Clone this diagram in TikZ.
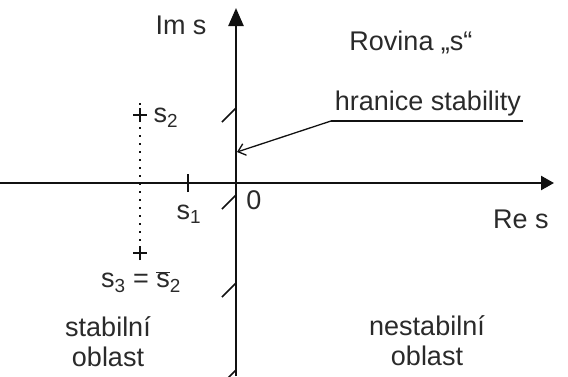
\documentclass[tikz,border=0pt]{standalone}
\usepackage{fontspec}
\setmainfont{Liberation Sans}
\usetikzlibrary{arrows.meta}

\begin{document}
\begin{tikzpicture}[x=1pt,y=-1pt]

% Barvy
\definecolor{colText}{HTML}{2A2A2A}
\definecolor{colOsa}{HTML}{111111}

% Styly
\tikzset{
  popis/.style={font=\fontsize{27}{30}\selectfont, text=colText, inner sep=0pt},
  osa/.style={colOsa, line width=2.4pt},
  srafa/.style={colOsa, line width=1.6pt},
  krizek/.style={colOsa, line width=2pt}
}

% Rozmery obrazku
\useasboundingbox (0,0) rectangle (568,376);

% Osy
\coordinate (reL) at (0,183);
\coordinate (reR) at (554,183);
\coordinate (imD) at (236,376);
\coordinate (imU) at (236,8);
\draw[osa, -{Triangle[length=13pt,width=14pt]}] (reL) -- (reR);
\draw[osa, -{Triangle[length=18pt,width=15pt]}] (imD) -- (imU);

% Srafovani hranice stability
\foreach \y in {108,195,283,370}
  \draw[srafa] (222,\y+14) -- (236,\y);

% Popisy os
\node[popis] (im) at (181,25) {Im s};
\node[popis] (re) at (521,219) {Re s};
\node[popis] (nula) at (254,200) {0};
\node[popis] (rovina) at (411,42) {Rovina „s“};

% Hranice stability
\node[popis, anchor=south] (hranice) at (428,116) {hranice stability};
\coordinate (hrL) at (331,121);
\coordinate (hrR) at (523,121);
\coordinate (hrCil) at (237,152);
\draw[colOsa, line width=1.3pt] (hrR) -- (hrL);
\draw[colOsa, line width=1.3pt, -{Straight Barb[length=7pt,width=12pt]}] (hrL) -- (hrCil);

% Koreny
\coordinate (s1) at (188,183);
\coordinate (s2) at (140,115);
\coordinate (s3) at (140,253);
\draw[krizek] ([yshift=-9pt]s1) -- ([yshift=9pt]s1);
\draw[krizek] ([xshift=-7pt]s2) -- ([xshift=7pt]s2) ([yshift=-7pt]s2) -- ([yshift=7pt]s2);
\draw[krizek] ([xshift=-7pt]s3) -- ([xshift=7pt]s3) ([yshift=-7pt]s3) -- ([yshift=7pt]s3);
\draw[colOsa, line width=2pt, dash pattern=on 2pt off 6pt] ([yshift=12pt]s2) -- ([yshift=-9pt]s3);

\node[popis] (ls1) at (189,214) {s\textsubscript{1}};
\node[popis] (ls2) at (166,118) {s\textsubscript{2}};
\node[popis] (ls3) at (141,282) {s\textsubscript{3} = $\overline{\mbox{s}}$\textsubscript{2}};

% Oblasti
\node[popis, align=center] (stab) at (108,342) {stabilní\\oblast};
\node[popis, align=center] (nestab) at (427,341) {nestabilní\\oblast};

\end{tikzpicture}
\end{document}
